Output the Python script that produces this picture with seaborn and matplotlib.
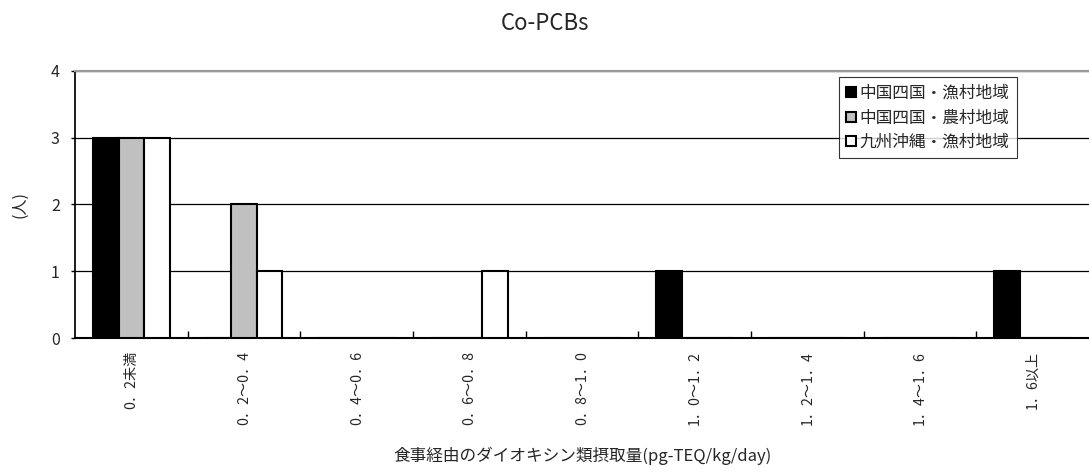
import pandas as pd
import seaborn as sns
import matplotlib.pyplot as plt
from matplotlib.ticker import FixedLocator

# 摂取量区分
categories = ['0．2未満', '0．2～0．4', '0．4～0．6', '0．6～0．8', '0．8～1．0',
              '1．0～1．2', '1．2～1．4', '1．4～1．6', '1．6以上']
series_names = ['中国四国・漁村地域', '中国四国・農村地域', '九州沖縄・漁村地域']
chugoku_gyoson = [3, 0, 0, 0, 0, 1, 0, 0, 1]
chugoku_noson = [3, 2, 0, 0, 0, 0, 0, 0, 0]
kyushu_gyoson = [3, 1, 0, 1, 0, 0, 0, 0, 0]

rows = []
for name, vals in zip(series_names, [chugoku_gyoson, chugoku_noson, kyushu_gyoson]):
    for c, v in zip(categories, vals):
        rows.append({'区分': c, '地域': name, '人数': v})
df = pd.DataFrame(rows)

sns.set_theme(style='white')
plt.rcParams['font.family'] = ['Noto Sans CJK JP', 'DejaVu Sans']

fig = plt.figure(figsize=(10.89, 4.75), dpi=100)
ax = fig.add_axes([0.069, 0.288, 0.931, 0.563])

sns.barplot(data=df, x='区分', y='人数', hue='地域', order=categories,
            hue_order=series_names, palette=['black', '#c0c0c0', 'white'],
            width=0.68, gap=0, edgecolor='black', linewidth=1.5,
            saturation=1, ax=ax, zorder=3)

ax.set_ylim(0, 4)
ax.set_xlim(-0.5, len(categories) - 0.5)
ax.set_yticks([0, 1, 2, 3, 4])
ax.yaxis.grid(True, color='black', linewidth=0.9)
ax.set_axisbelow(True)

ax.spines['right'].set_visible(False)
ax.spines['top'].set_color('#999999')
ax.spines['top'].set_linewidth(1.5)
ax.spines['top'].set_zorder(4)
ax.spines['left'].set_color('black')
ax.spines['bottom'].set_color('black')
ax.spines['bottom'].set_linewidth(1.5)

ax.tick_params(axis='x', which='major', length=0, labelsize=10.2, rotation=90, pad=9)
ax.xaxis.set_minor_locator(FixedLocator([i + 0.5 for i in range(len(categories) - 1)]))
ax.tick_params(axis='x', which='minor', direction='in', length=5, width=1, color='black', bottom=True)
ax.tick_params(axis='y', length=3, width=1, color='black', labelsize=11.5, left=True, pad=8)

ax.set_xlabel('食事経由のダイオキシン類摂取量(pg-TEQ/kg/day)', fontsize=12, labelpad=16)
ax.set_ylabel('(人)', fontsize=11.5, labelpad=16)
fig.suptitle('Co-PCBs', y=0.975, fontsize=16)

leg = ax.legend(title=None, loc='upper right', bbox_to_anchor=(0.929, 0.975),
                fontsize=12, frameon=True, fancybox=False, edgecolor='black',
                handlelength=0.55, handleheight=0.55, handletextpad=0.25,
                borderpad=0.45, labelspacing=0.45, borderaxespad=0)
leg.get_frame().set_linewidth(0.8)

fig.savefig('out.png', dpi=100)
